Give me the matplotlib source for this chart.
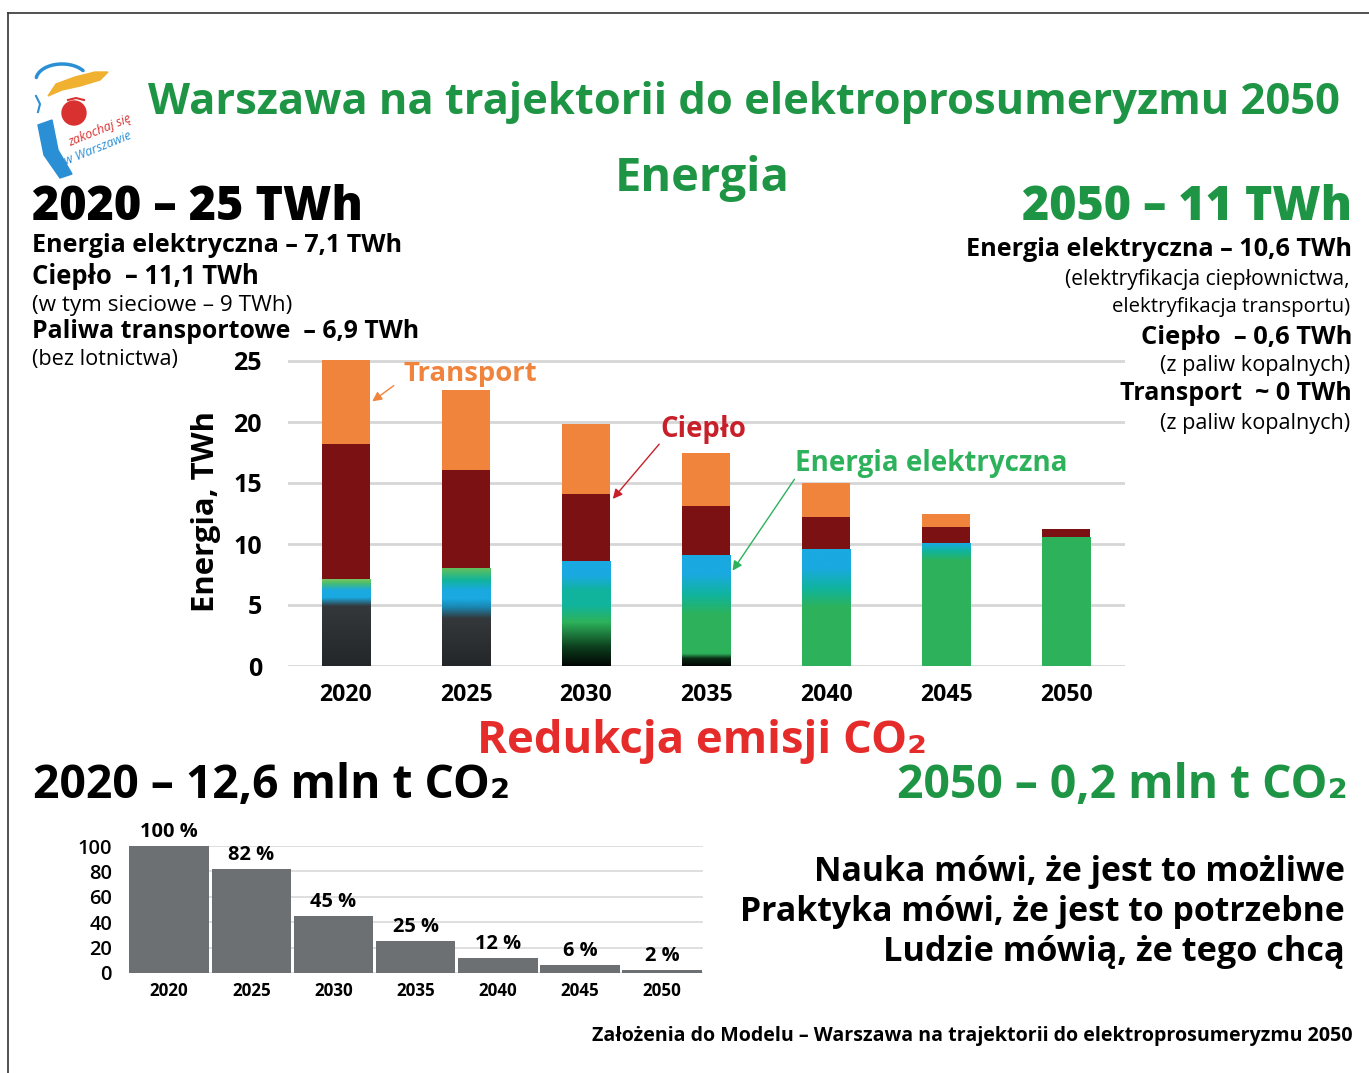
import numpy as np
import matplotlib
matplotlib.use('Agg')
import matplotlib.pyplot as plt
from matplotlib.colors import to_rgb
from matplotlib.patches import Ellipse, FancyArrowPatch, Polygon

plt.rcParams['font.family'] = ['Open Sans', 'DejaVu Sans']

# --- data: energy chart (TWh) ---
years = ['2020', '2025', '2030', '2035', '2040', '2045', '2050']
electricity = [7.1, 8.0, 8.6, 9.1, 9.6, 10.1, 10.6]
heat = [11.1, 8.1, 5.5, 4.0, 2.6, 1.3, 0.6]
transport = [6.9, 6.5, 5.7, 4.4, 2.8, 1.1, 0.0]

# colour mix inside the electricity bars: (TWh level, colour)
elec_mix = [
    [(0, '#23272a'), (4.9, '#34383b'), (5.6, '#1aa9e1'), (6.2, '#1aa9e1'), (6.8, '#4cbf6a'), (7.1, '#7cc464')],
    [(0, '#23272a'), (3.9, '#34383b'), (4.8, '#1a86b0'), (5.5, '#1aa9e1'), (6.2, '#1aa9e1'), (7.0, '#10b49d'), (8.0, '#62c05a')],
    [(0, '#020604'), (1.5, '#0c3c1c'), (3.6, '#2db25b'), (5.0, '#10b49d'), (6.2, '#10b49d'), (7.4, '#1aa9e1'), (8.6, '#1aa9e1')],
    [(0, '#020604'), (0.6, '#0a2a12'), (1.0, '#2db25b'), (4.2, '#2db25b'), (5.8, '#10b49d'), (7.5, '#1aa9e1'), (9.1, '#1aa9e1')],
    [(0, '#2db25b'), (4.8, '#2db25b'), (6.3, '#10b49d'), (8.0, '#1aa9e1'), (9.6, '#1aa9e1')],
    [(0, '#2db25b'), (8.6, '#2db25b'), (9.4, '#10b49d'), (10.0, '#1aa9e1'), (10.1, '#1aa9e1')],
    [(0, '#2db25b'), (10.6, '#2db25b')],
]
energy_ticks = [0, 5, 10, 15, 20, 25]

# --- data: CO2 reduction chart (% of 2020) ---
co2_pct = [100, 82, 45, 25, 12, 6, 2]
co2_ticks = [0, 20, 40, 60, 80, 100]

W, H = 1369, 1073
fig = plt.figure(figsize=(W / 100, H / 100), dpi=100)
fig.patch.set_facecolor('white')

GREEN = '#1e9544'
RED = '#e62b2b'
ORANGE = '#f0843c'
DARKRED = '#7b1113'


def px(x, y):
    return x / W, 1 - y / H


def pt(p):
    return p * 0.72


fits = []


def txt(x, y, s, size, color='black', weight='bold', ha='left', va='center', fit=None):
    t = fig.text(*px(x, y), s, fontsize=pt(size), color=color, fontweight=weight, ha=ha, va=va)
    if fit:
        fits.append((t, fit))
    return t


# page border
fig.add_artist(plt.Line2D([8 / W, 1], [1 - 13 / H, 1 - 13 / H], color='#333333', lw=1.2))
fig.add_artist(plt.Line2D([8 / W, 8 / W], [0, 1 - 13 / H], color='#333333', lw=1.2))

# logo (rough sketch)
lg = fig.add_axes([25 / W, 1 - 185 / H, 120 / W, 130 / H])
lg.set_xlim(25, 145)
lg.set_ylim(185, 55)
lg.axis('off')
a = np.linspace(0.2 * np.pi, 0.95 * np.pi, 30)
lg.plot(62 + 26 * np.cos(a), 80 - 16 * np.sin(a), color='#2b8fd6', lw=2.5, solid_capstyle='round')
lg.add_patch(Polygon([(48, 96), (56, 84), (75, 77), (95, 72), (108, 72), (100, 80), (80, 86), (62, 90)],
                     closed=True, color='#f0b030'))
lg.add_patch(Ellipse((74, 113), 24, 24, color='#d93030'))
lg.plot([68, 76, 84], [100, 98, 100], color='#d93030', lw=1.5)
lg.add_patch(Polygon([(38, 125), (52, 120), (58, 150), (72, 174), (60, 178), (44, 155)],
                     closed=True, color='#2b8fd6'))
lg.plot([36, 40, 38], [96, 104, 112], color='#2b8fd6', lw=1.5)
lg.text(100, 130, 'zakochaj się', color='#d93030', fontsize=9, rotation=22, ha='center', va='center', style='italic')
lg.text(98, 148, 'w Warszawie', color='#2b8fd6', fontsize=9, rotation=22, ha='center', va='center', style='italic')

# headings
txt(148, 102, 'Warszawa na trajektorii do elektroprosumeryzmu 2050', 42, GREEN, fit=1190)
txt(702, 178, 'Energia', 44, GREEN, ha='center', fit=175)

txt(32, 208, '2020 – 25 TWh', 44, 'black', weight='heavy', fit=330)
txt(32, 246, 'Energia elektryczna – 7,1 TWh', 21, fit=371)
txt(32, 277, 'Ciepło  – 11,1 TWh', 21, fit=228)
txt(32, 305, '(w tym sieciowe – 9 TWh)', 20, weight='normal', fit=260)
txt(32, 332, 'Paliwa transportowe  – 6,9 TWh', 21, fit=389)
txt(32, 360, '(bez lotnictwa)', 20, weight='normal', fit=146)

txt(1352, 208, '2050 – 11 TWh', 44, GREEN, weight='heavy', ha='right', fit=330)
txt(1352, 250, 'Energia elektryczna – 10,6 TWh', 21, ha='right', fit=387)
txt(1350, 279, '(elektryfikacja ciepłownictwa,', 20, weight='normal', ha='right', fit=285)
txt(1350, 307, 'elektryfikacja transportu)', 20, weight='normal', ha='right', fit=238)
txt(1352, 337, 'Ciepło  – 0,6 TWh', 21, ha='right', fit=212)
txt(1350, 366, '(z paliw kopalnych)', 20, weight='normal', ha='right', fit=190)
txt(1352, 394, 'Transport  ~ 0 TWh', 21, ha='right', fit=232)
txt(1350, 423, '(z paliw kopalnych)', 20, weight='normal', ha='right', fit=190)

# energy chart
ax = fig.add_axes([288 / W, 1 - 666 / H, (1125 - 288) / W, 25.3 * 12.2 / H])
x = np.arange(len(years))
bw = 0.4
for s in ax.spines.values():
    s.set_visible(False)
ax.set_yticks(energy_ticks)
ax.yaxis.grid(True, color='#d6d6d6', lw=2)
ax.set_axisbelow(True)
ax.tick_params(length=0)
ax.tick_params(axis='y', pad=pt(26), labelsize=pt(25))
ax.tick_params(axis='x', pad=pt(17), labelsize=pt(23))
ax.set_xticks(x)
ax.set_xticklabels(years, fontweight='bold')
for lab in ax.get_yticklabels():
    lab.set_fontweight('bold')
ax.set_ylabel('Energia, TWh', fontsize=pt(31), fontweight='bold', labelpad=pt(12))

elec_bars = ax.bar(x, electricity, bw, color='none', zorder=2)
ax.bar(x, heat, bw, bottom=electricity, color=DARKRED, zorder=2)
ax.bar(x, transport, bw, bottom=np.add(electricity, heat), color=ORANGE, zorder=2)

for xi, top, stops, bar in zip(x, electricity, elec_mix, elec_bars):
    lv = np.linspace(0, top, 300)
    sv = [s[0] for s in stops]
    cols = np.array([to_rgb(s[1]) for s in stops])
    img = np.stack([np.interp(lv, sv, cols[:, k]) for k in range(3)], axis=-1)[:, None, :]
    im = ax.imshow(img, extent=[xi - bw / 2, xi + bw / 2, 0, top], origin='lower',
                   aspect='auto', zorder=2, interpolation='bilinear')
    im.set_clip_path(bar)
ax.set_xlim(-0.483, 6.49)
ax.set_ylim(0, 25.3)


def label_arrow(text, color, tx, ty, ax_from, ax_to, size, fit):
    txt(tx, ty, text, size, color, fit=fit)
    fig.add_artist(FancyArrowPatch(px(*ax_from), px(*ax_to), transform=fig.transFigure,
                                   arrowstyle='-|>', mutation_scale=14, color=color, lw=1))


label_arrow('Transport', ORANGE, 404, 374, (396, 384), (370, 403), 25, 134)
label_arrow('Ciepło', '#c8202a', 660, 429, (661, 442), (611, 501), 25, 86)
label_arrow('Energia elektryczna', '#2db25b', 795, 464, (796, 477), (731, 573), 25, 273)

# CO2 section
txt(702, 741, 'Redukcja emisji CO₂', 44, RED, ha='center', fit=450)
txt(33, 786, '2020 – 12,6 mln t CO₂', 42, 'black', fit=477)
txt(1348, 786, '2050 – 0,2 mln t CO₂', 42, GREEN, ha='right', fit=450)

bx = fig.add_axes([129 / W, 1 - 973 / H, (703 - 129) / W, 127 / H])
for s in bx.spines.values():
    s.set_visible(False)
bx.set_yticks(co2_ticks)
bx.yaxis.grid(True, color='#d9d9d9', lw=1.2)
bx.set_axisbelow(True)
bx.tick_params(length=0)
bx.tick_params(axis='y', pad=pt(17), labelsize=pt(20))
bx.tick_params(axis='x', pad=pt(9), labelsize=pt(17))
bx.set_xticks(x)
bx.set_xticklabels(years, fontweight='bold')
for lab in bx.get_yticklabels():
    lab.set_fontweight('semibold')
bx.bar(x, co2_pct, 0.97, color='#6d7072', zorder=2)
for xi, v in zip(x, co2_pct):
    bx.annotate(f'{v} %', (xi, v), xytext=(0, pt(4)), textcoords='offset points',
                ha='center', va='bottom', fontsize=pt(20), fontweight='bold', annotation_clip=False)
bx.set_xlim(-0.49, 6.5)
bx.set_ylim(0, 100)

txt(1345, 872, 'Nauka mówi, że jest to możliwe', 32, ha='right', fit=532)
txt(1345, 912, 'Praktyka mówi, że jest to potrzebne', 32, ha='right', fit=607)
txt(1345, 952, 'Ludzie mówią, że tego chcą', 32, ha='right', fit=462)
txt(1352, 1036, 'Założenia do Modelu – Warszawa na trajektorii do elektroprosumeryzmu 2050', 17,
    ha='right', fit=762)

# scale long text lines to the widths seen in the original
fig.canvas.draw()
r = fig.canvas.get_renderer()
for t, target in fits:
    w = t.get_window_extent(r).width
    t.set_fontsize(t.get_fontsize() * target / w)

fig.savefig('out.png', dpi=100)
